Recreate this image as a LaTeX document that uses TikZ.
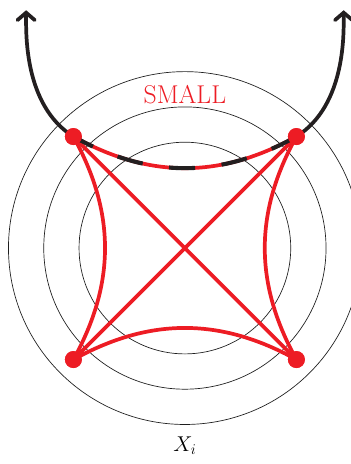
\documentclass[tikz,border=0pt]{standalone}
\usepackage{amsmath, amssymb}
\usetikzlibrary{arrows.meta}
\definecolor{cutred}{RGB}{237, 28, 36}
\definecolor{ringgray}{RGB}{30, 30, 30}
\definecolor{pathblack}{RGB}{35, 31, 32}

\tikzset{
  ring/.style={ringgray, line width=0.55pt},
  cutline/.style={cutred, line width=3pt},
  pathline/.style={pathblack, line width=3pt},
  corner/.style={circle, fill=cutred, inner sep=0pt, minimum size=0.48cm}
}

\begin{document}
\begin{tikzpicture}
    \useasboundingbox (-5.24,-6.12) rectangle (4.70,7.03);
    \coordinate (o) at (0,0);

    %% level sets round the centre
    \draw[ring] (o) circle (3);
    \draw[ring] (o) circle (4);
    \draw[ring] (o) circle (5);

    %% the four corner points
    \node[corner] (tl) at (-3.16,3.16) {};
    \node[corner] (tr) at (3.16,3.16) {};
    \node[corner] (bl) at (-3.16,-3.16) {};
    \node[corner] (br) at (3.16,-3.16) {};

    \coordinate (pathstart) at (-4.5,6.74);
    \coordinate (pathend) at (4.5,6.74);

    %% red edges
    \draw[cutline] (tl.center) to[bend right=29] (tr.center);
    \draw[cutline] (tl.center) to[bend left=29] (bl.center);
    \draw[cutline] (tr.center) to[bend right=29] (br.center);
    \draw[cutline] (bl.center) to[bend left=29] (br.center);
    \draw[cutline] (tl.center) -- (br.center);
    \draw[cutline] (tr.center) -- (bl.center);

    %% black path through the top corners
    \draw[pathline, {Straight Barb[length=6pt,width=14pt,line cap=round]}-]
      (pathstart) .. controls (-4.5,6.15) and (-4.58,4.05) .. (tl.center);
    \draw[pathline, -{Straight Barb[length=6pt,width=14pt,line cap=round]}]
      (tr.center) .. controls (4.58,4.05) and (4.5,6.15) .. (pathend);
    \draw[pathline, line width=3.3pt, dash pattern=on 21pt off 21.5pt, dash phase=3.3pt]
      (tl.center) to[bend right=29] (tr.center);

    %% redraw the corners on top
    \foreach \c in {tl,tr,bl,br}
      \fill[cutred] (\c) circle (0.24);

    \node[cutred, font=\huge] (small) at (0,4.35) {SMALL};
    \node[font=\fontsize{17}{20}\selectfont] (xi) at (0,-5.6) {$X_i$};
  \end{tikzpicture}
\end{document}
